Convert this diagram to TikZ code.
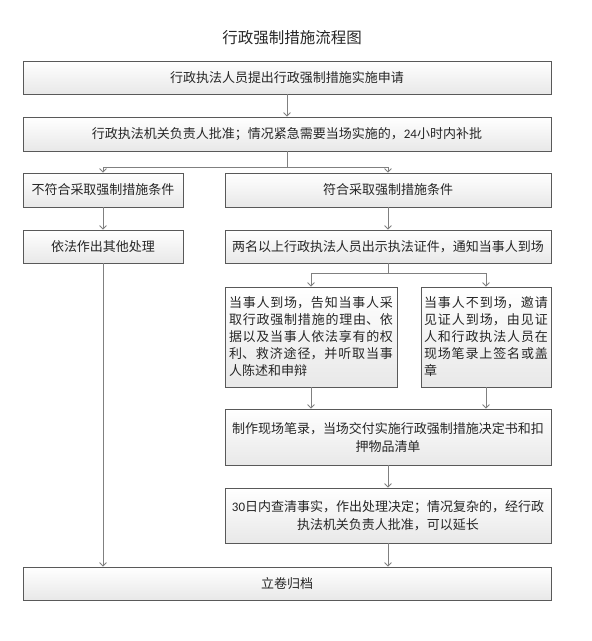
\documentclass[tikz,border=0pt]{standalone}
\usepackage{fontspec}
\setmainfont{Noto Sans CJK SC}
\newfontfamily\lat{Carlito}
\usetikzlibrary{arrows.meta,shadows}
\XeTeXlinebreaklocale "zh"
\XeTeXlinebreakskip=0pt plus 2pt
\newcommand\nostretchcjk{\XeTeXlinebreakskip=0pt\relax}
\begin{document}
\begin{tikzpicture}[x=1pt,y=-1pt,
  box/.style={draw=black!65, line width=0.8pt, top color=white, bottom color=black!9,
    drop shadow={shadow xshift=1.2pt,shadow yshift=-1.2pt,opacity=0.25},
    inner sep=0pt, font=\fontsize{13}{17}\selectfont, text=black!85},
  fixbox/.style={box, font=\fontsize{13}{18}\selectfont},
  ln/.style={draw=black!50, line width=0.8pt},
  arr/.style={ln, -{Straight Barb[length=3.5pt,width=7pt]}}]
\useasboundingbox (0,0) rectangle (592,641);

\node[font=\fontsize{15.5}{18}\selectfont, text=black!85] (title) at (292,38) {行政强制措施流程图};

\node[box, minimum width=528pt, minimum height=33pt] (b1) at (287,77.5) {行政执法人员提出行政强制措施实施申请};
\node[box, minimum width=528pt, minimum height=34pt] (b2) at (287,134) {行政执法机关负责人批准；情况紧急需要当场实施的，{\lat 24}小时内补批};
\node[box, minimum width=160pt, minimum height=34pt] (b3) at (103,190) {不符合采取强制措施条件};
\node[box, minimum width=326pt, minimum height=34pt] (b4) at (388,190) {符合采取强制措施条件};
\node[box, minimum width=160pt, minimum height=33pt] (b5) at (103,246.5) {依法作出其他处理};
\node[box, minimum width=326pt, minimum height=33pt] (b6) at (388,246.5) {两名以上行政执法人员出示执法证件，通知当事人到场};
\node[box, minimum width=172pt, minimum height=100pt, text width=164pt, align=justify] (b7) at (311,337)
  {当事人到场，告知当事人采取行政强制措施的理由、依据以及当事人依法享有的权利、救济途径，并听取当事人陈述和申辩};
\node[box, minimum width=130pt, minimum height=100pt, text width=124pt, align=justify] (b8) at (486,337)
  {当事人不到场，邀请见证人到场，由见证人和行政执法人员在现场笔录上签名或盖章};
\node[fixbox, minimum width=326pt, minimum height=56pt, text width=320pt, align=center] (b9) at (388,437)
  {\nostretchcjk 制作现场笔录，当场交付实施行政强制措施决定书和扣\\押物品清单};
\node[fixbox, minimum width=326pt, minimum height=55pt, text width=320pt, align=center] (b10) at (388,515.5)
  {\nostretchcjk{\lat 30}日内查清事实，作出处理决定；情况复杂的，经行政\\执法机关负责人批准，可以延长};
\node[box, minimum width=528pt, minimum height=33pt] (b11) at (287,583.5) {立卷归档};

\coordinate (j1) at (287,167);
\coordinate (j2) at (388,273);

\draw[arr] (b1) -- (b2);
\draw[ln] (b2.south) -- (j1);
\draw[arr] (j1) -| (b3.north);
\draw[arr] (j1) -| (b4.north);
\draw[arr] (b3) -- (b5);
\draw[arr] (b4) -- (b6);
\draw[ln] (b6.south) -- (j2);
\draw[arr] (j2) -| (b7.north);
\draw[arr] (j2) -| (b8.north);
\draw[arr] (b7.south) -- (b7.south |- b9.north);
\draw[arr] (b8.south) -- (b8.south |- b9.north);
\draw[arr] (b9) -- (b10);
\draw[arr] (b10.south) -- (b10.south |- b11.north);
\draw[arr] (b5.south) -- (b5.south |- b11.north);
\end{tikzpicture}
\end{document}
